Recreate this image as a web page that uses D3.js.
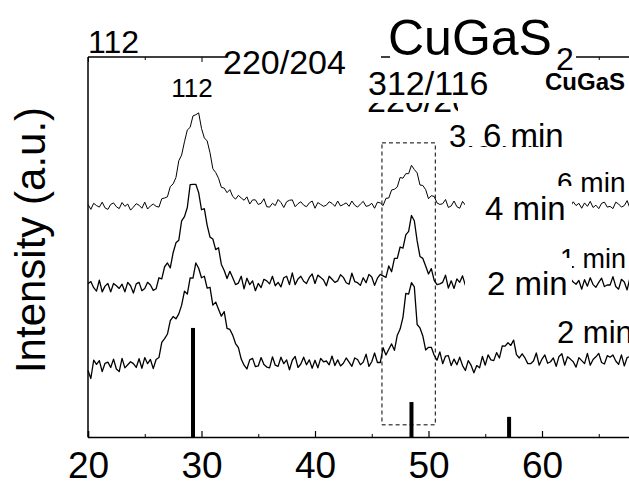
<!DOCTYPE html>
<html>
<head>
<meta charset="utf-8">
<script src="https://cdn.jsdelivr.net/npm/d3@7"></script>
<style>
  body { margin: 0; background: #fff; }
  svg { display: block; }
  text { font-family: "Liberation Sans", Arial, sans-serif; fill: #000; }
</style>
</head>
<body>
<div id="chart"></div>
<script>
// 2theta grid: 20 -> 67.75 deg, step 0.25
var thetaStart = 20;
var thetaStep = 0.25;

// 6 min (top trace), intensity a.u. incl. stacking offset
var int6min = [
  61.2, 59.9, 61.5, 60.9, 60.5, 61.8, 60.3, 59.9, 61.2, 61.6, 60.6, 60.1,
  61.7, 60.7, 61.3, 59.7, 60.5, 61.4, 61.0, 60.2, 61.8, 60.0, 60.8, 61.3,
  60.7, 60.5, 62.7, 62.9, 63.2, 65.9, 66.6, 68.3, 72.7, 74.2, 77.7, 80.8,
  81.5, 84.5, 84.8, 85.3, 81.2, 78.7, 77.9, 74.8, 70.6, 69.6, 68.1, 65.7,
  65.5, 64.3, 65.1, 63.3, 62.6, 63.6, 62.9, 62.3, 63.2, 61.3, 62.4, 62.4,
  61.2, 61.5, 62.7, 60.6, 60.5, 61.5, 60.9, 62.5, 61.7, 60.4, 61.9, 62.3,
  62.4, 60.6, 61.4, 61.9, 61.0, 60.6, 61.6, 62.1, 60.2, 61.7, 61.2, 60.7,
  61.0, 61.9, 61.5, 60.7, 62.1, 60.8, 61.2, 61.6, 60.7, 62.1, 61.0, 60.5,
  61.3, 62.0, 60.7, 60.9, 61.5, 60.2, 61.8, 61.6, 60.9, 62.8, 62.9, 65.0,
  65.2, 65.8, 68.3, 68.1, 69.3, 69.3, 71.5, 70.4, 69.5, 66.3, 66.2, 65.1,
  62.7, 63.5, 63.3, 61.6, 61.2, 61.4, 62.5, 60.4, 60.8, 62.1, 60.6, 60.2,
  62.0, 61.0, 61.6, 60.0, 62.2, 60.7, 61.2, 61.7, 60.3, 61.6, 61.2, 60.8,
  60.1, 61.9, 61.1, 60.6, 61.5, 61.9, 60.9, 60.4, 61.0, 60.3, 61.6, 61.4,
  60.3, 62.0, 60.7, 60.6, 61.6, 60.2, 61.3, 61.8, 61.4, 60.5, 60.9, 61.7,
  60.2, 61.4, 60.6, 61.9, 60.9, 61.5, 60.2, 61.6, 60.7, 62.0, 60.4, 61.0,
  60.1, 61.5, 61.8, 60.5, 60.7, 60.1, 61.8, 61.3, 60.5, 60.9, 62.2, 60.2
];

// 4 min (middle trace)
var int4min = [
  40.3, 40.9, 39.3, 38.4, 41.3, 38.2, 39.7, 40.4, 38.2, 40.4, 39.8, 39.1,
  40.2, 38.2, 40.7, 39.8, 37.9, 40.3, 40.7, 38.5, 39.1, 40.7, 40.0, 38.6,
  39.0, 41.9, 41.6, 44.8, 45.8, 44.5, 48.5, 51.1, 51.8, 56.9, 58.0, 60.4,
  66.4, 66.5, 66.5, 64.3, 59.8, 60.1, 55.7, 52.6, 52.1, 49.3, 49.8, 45.4,
  43.8, 41.7, 43.6, 41.9, 40.1, 40.5, 42.3, 39.0, 41.8, 40.1, 41.1, 38.5,
  40.4, 39.3, 41.5, 41.1, 40.3, 42.3, 39.8, 40.7, 39.5, 41.9, 42.3, 40.1,
  43.2, 40.1, 41.6, 42.3, 41.0, 40.4, 42.0, 42.9, 40.4, 42.6, 42.0, 41.3,
  39.8, 42.3, 41.5, 40.7, 41.1, 42.7, 42.0, 40.6, 40.2, 43.1, 40.9, 40.6,
  39.9, 41.9, 40.6, 42.8, 42.1, 39.9, 41.8, 42.8, 42.4, 42.0, 45.0, 43.5,
  47.0, 47.0, 50.0, 49.7, 53.2, 54.1, 58.3, 56.9, 51.6, 47.5, 47.0, 45.0,
  42.9, 44.3, 41.2, 40.1, 40.3, 40.7, 42.6, 39.2, 41.1, 39.1, 41.6, 40.7,
  42.4, 39.9, 40.7, 41.5, 38.8, 41.2, 41.6, 39.4, 41.0, 39.4, 40.1, 41.5,
  39.1, 41.3, 40.7, 40.0, 41.2, 41.8, 40.2, 39.3, 41.8, 38.9, 41.1, 41.4,
  38.8, 41.9, 40.4, 39.7, 39.0, 41.0, 39.7, 41.9, 39.0, 40.7, 39.7, 42.3,
  39.8, 38.8, 41.7, 40.8, 40.2, 41.2, 38.9, 41.4, 39.7, 41.9, 40.1, 39.4,
  40.7, 41.8, 39.6, 40.0, 40.0, 42.2, 39.6, 38.9, 41.5, 40.8, 38.7, 41.9
];

// 2 min (bottom trace)
var int2min = [
  17.5, 15.4, 20.2, 19.1, 20.1, 17.2, 19.4, 19.7, 18.3, 20.5, 17.9, 17.2,
  20.7, 18.2, 19.0, 19.8, 19.3, 18.3, 20.6, 18.1, 20.9, 19.3, 20.4, 18.0,
  20.4, 20.9, 24.9, 25.9, 27.1, 30.6, 31.7, 31.1, 32.4, 34.7, 38.4, 37.6,
  41.9, 41.8, 45.8, 44.4, 41.9, 42.3, 39.2, 39.4, 34.7, 35.5, 33.6, 31.8,
  33.0, 28.6, 28.3, 26.8, 24.6, 23.5, 20.5, 18.9, 17.9, 20.3, 20.7, 18.5,
  18.7, 20.9, 19.1, 18.4, 18.2, 21.1, 18.9, 18.6, 21.0, 19.3, 20.3, 17.7,
  20.2, 21.2, 18.3, 19.2, 21.0, 19.0, 20.3, 18.1, 20.2, 18.2, 20.7, 19.8,
  20.0, 19.0, 21.3, 18.8, 20.3, 18.7, 19.4, 20.8, 19.7, 18.6, 20.8, 20.4,
  19.0, 19.7, 21.8, 18.6, 19.8, 22.1, 19.6, 19.6, 23.5, 21.6, 23.1, 24.5,
  22.8, 26.8, 28.4, 31.5, 37.8, 37.6, 40.6, 39.5, 29.6, 28.7, 26.6, 22.9,
  23.6, 23.6, 21.5, 20.2, 22.4, 19.3, 21.3, 21.4, 18.8, 20.5, 19.0, 21.0,
  18.8, 17.5, 20.1, 18.9, 16.9, 18.8, 18.2, 21.2, 18.9, 21.6, 20.3, 20.1,
  22.2, 20.8, 24.0, 23.9, 24.8, 24.1, 25.5, 21.7, 20.8, 21.9, 20.8, 19.3,
  19.3, 20.0, 22.1, 18.9, 20.5, 21.6, 19.4, 19.8, 20.8, 18.6, 21.2, 21.9,
  18.9, 21.1, 20.5, 19.8, 18.4, 20.9, 20.1, 19.3, 22.0, 18.9, 20.4, 21.1,
  22.0, 19.6, 19.2, 21.4, 21.0, 21.6, 20.0, 19.1, 21.6, 18.7, 20.9, 21.2
];

// CuGaS2 reference lines
var refTheta = [29.25, 48.5, 57.1];
var refInt = [28.7, 9.2, 5.3];

// dashed highlight box (2theta range, intensity range)
var boxTheta = [45.9, 50.6];
var boxInt = [3.2, 77.4];

var majorTicks = [20, 30, 40, 50, 60, 70];
var minorTicks = [25, 35, 45, 55, 65];

var svgWidth = 629;
var svgHeight = 486;

var margin = { top: 57, left: 88, bottom: 49 };

var svg = d3.select("#chart")
    .append("svg")
    .attr("width", svgWidth)
    .attr("height", svgHeight);

var xScale = d3.scaleLinear()
    .domain([20, 70])
    .range([margin.left, margin.left + 50 * 11.35]);

var yScale = d3.scaleLinear()
    .domain([0, 100])
    .range([svgHeight - margin.bottom, margin.top]);

var y0 = yScale(0);

// frame
svg.append("line")
    .attr("x1", margin.left).attr("x2", svgWidth)
    .attr("y1", margin.top).attr("y2", margin.top)
    .attr("stroke", "#000").attr("stroke-width", 1.5);

svg.append("line")
    .attr("x1", margin.left).attr("x2", margin.left)
    .attr("y1", margin.top).attr("y2", y0)
    .attr("stroke", "#000").attr("stroke-width", 1.5);

var bottomAxis = d3.axisBottom(xScale)
    .tickValues(majorTicks)
    .tickSize(-6)
    .tickFormat(d3.format("d"));

var xAxis = svg.append("g")
    .attr("transform", `translate(0, ${y0})`)
    .call(bottomAxis);

xAxis.select(".domain").attr("stroke-width", 1.5);
xAxis.selectAll(".tick line").attr("stroke-width", 1.2);
xAxis.selectAll(".tick text")
    .attr("dy", "0.71em")
    .attr("y", 15)
    .style("font-size", "37px")
    .style("font-family", "'Liberation Sans', Arial, sans-serif");

svg.append("g")
    .attr("transform", `translate(0, ${y0})`)
    .call(d3.axisBottom(xScale).tickValues(minorTicks).tickSize(-3).tickFormat(""))
    .call(g => g.select(".domain").remove());

// mirrored ticks on top frame
svg.append("g")
    .attr("transform", `translate(0, ${margin.top})`)
    .call(d3.axisTop(xScale).tickValues(majorTicks).tickSize(-5).tickFormat(""))
    .call(g => g.select(".domain").remove());
svg.append("g")
    .attr("transform", `translate(0, ${margin.top})`)
    .call(d3.axisTop(xScale).tickValues(minorTicks).tickSize(-3).tickFormat(""))
    .call(g => g.select(".domain").remove());

// traces
var line = d3.line()
    .x((d, i) => xScale(thetaStart + i * thetaStep))
    .y(d => yScale(d));

var traceWidth = [1.0, 1.3, 1.3];

[int6min, int4min, int2min].forEach(function(series, k) {
    svg.append("path")
        .datum(series)
        .attr("fill", "none")
        .attr("stroke", "#000")
        .attr("stroke-width", traceWidth[k])
        .attr("stroke-linejoin", "round")
        .attr("d", line);
});

// reference sticks
svg.selectAll(".stick")
    .data(refTheta)
    .enter().append("line")
    .attr("class", "stick")
    .attr("x1", d => xScale(d))
    .attr("x2", d => xScale(d))
    .attr("y1", y0)
    .attr("y2", (d, i) => yScale(refInt[i]))
    .attr("stroke", "#000")
    .attr("stroke-width", 4);

// dashed box
svg.append("rect")
    .attr("x", xScale(boxTheta[0]))
    .attr("y", yScale(boxInt[1]))
    .attr("width", xScale(boxTheta[1]) - xScale(boxTheta[0]))
    .attr("height", yScale(boxInt[0]) - yScale(boxInt[1]))
    .attr("fill", "none")
    .attr("stroke", "#000")
    .attr("stroke-width", 1)
    .attr("stroke-dasharray", "4,3");

function addText(str, x, y, size, opts) {
    opts = opts || {};
    return svg.append("text")
        .attr("x", x)
        .attr("y", y)
        .attr("text-anchor", opts.anchor || "start")
        .style("font-size", size + "px")
        .style("font-weight", opts.bold ? "bold" : "normal")
        .text(str);
}

function mask(x, y, w, h) {
    svg.append("rect")
        .attr("x", x).attr("y", y)
        .attr("width", w).attr("height", h)
        .attr("fill", "#fff");
}

// labels partly hidden underneath other panels
addText("3.6 min", 449, 147, 31);
addText("220/204", 367, 112, 34);
addText("6 min", 557, 192, 28);
addText("1 min", 560, 268, 27);
addText("2 min", 557, 343, 31);

// covering labels
mask(228, 40, 153, 22);
mask(390, 8, 186, 54);
mask(365, 62, 135, 41);
mask(458, 62, 42, 54);
mask(466, 114, 106, 32);
mask(465, 186, 107, 40);
mask(465, 258, 107, 42);

addText("112", 88, 53, 32);
addText("220/204", 223, 74, 34);
addText("112", 192, 97, 26, { anchor: "middle" });
addText("CuGaS", 388, 55, 50);
addText("2", 556, 70, 32);
addText("312/116", 368, 95, 34);
addText("CuGaS", 545, 90, 24, { bold: true });
addText("6 min", 483, 147, 33);
addText("4 min", 485, 220, 33);
addText("2 min", 487, 295, 33);

// y axis title
svg.append("text")
    .attr("transform", "translate(45, 240) rotate(-90)")
    .attr("text-anchor", "middle")
    .style("font-size", "42px")
    .text("Intensity (a.u.)");
</script>
</body>
</html>
